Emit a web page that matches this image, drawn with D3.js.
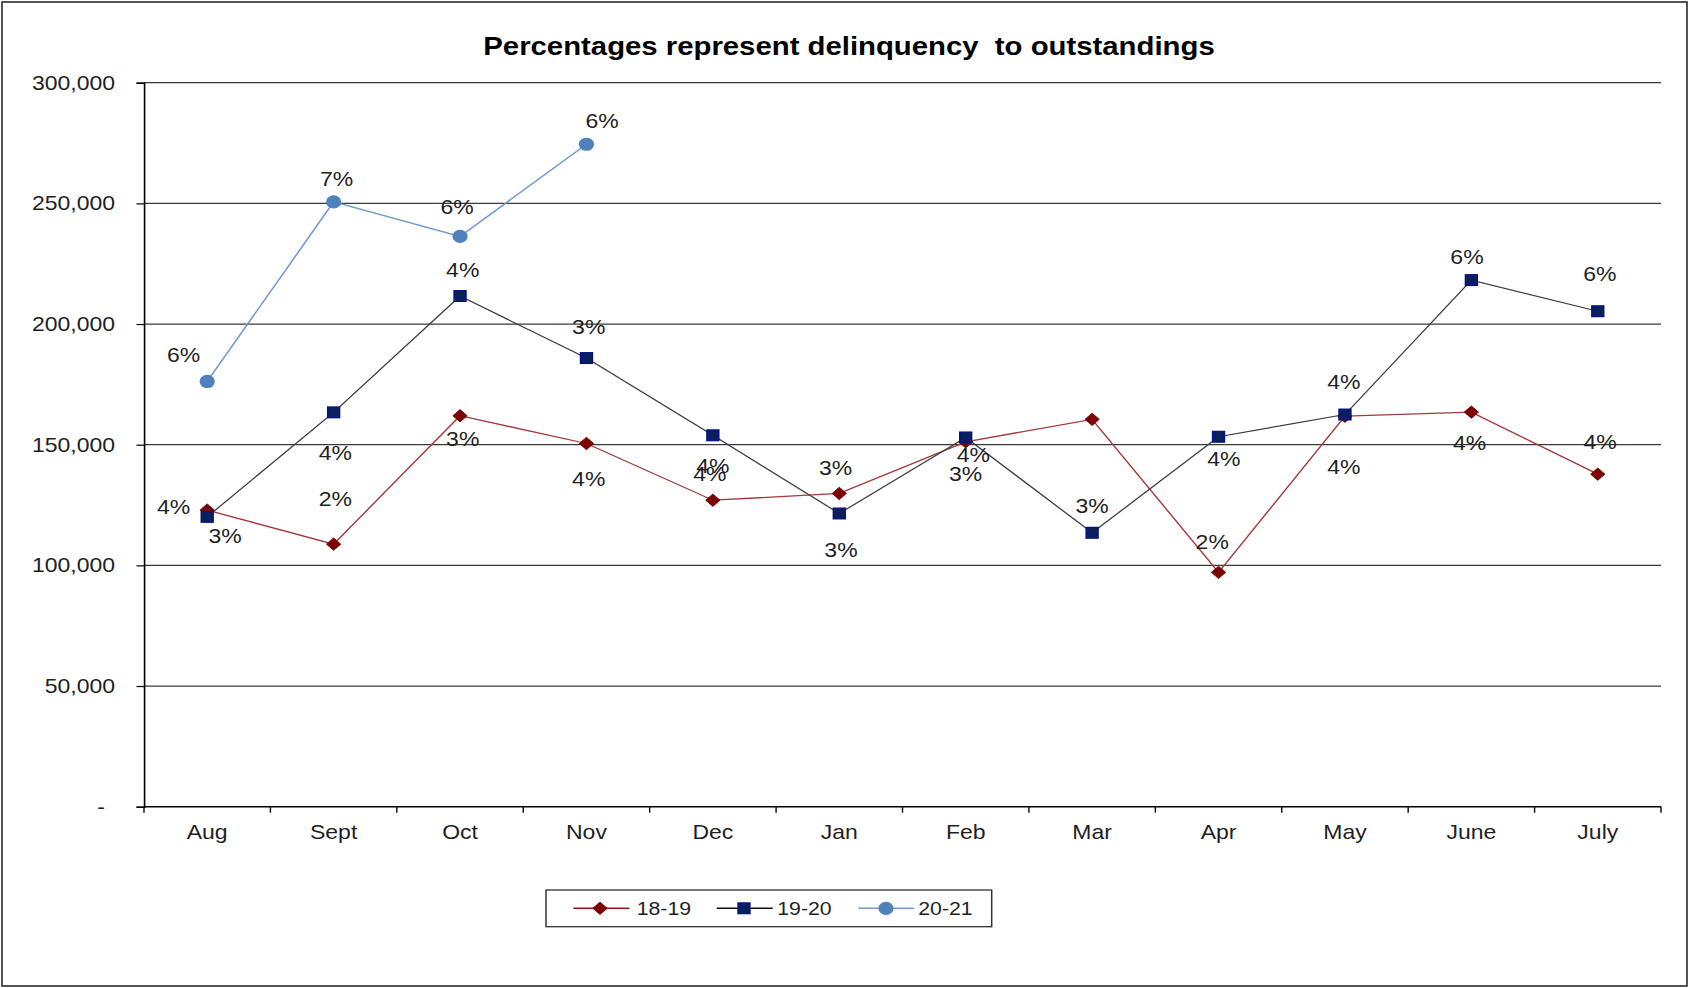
<!DOCTYPE html>
<html>
<head>
<meta charset="utf-8">
<script src="https://cdn.jsdelivr.net/npm/d3@7/dist/d3.min.js"></script>
<style>
  html, body { margin: 0; padding: 0; background: #fff; }
  svg { display: block; }
  text { font-family: "Liberation Sans", Arial, sans-serif; fill: #1f1f1f; }
</style>
</head>
<body>
<svg id="chart" width="1689" height="988"></svg>
<script>
// ---- data ----
const months = ["Aug", "Sept", "Oct", "Nov", "Dec", "Jan", "Feb", "Mar", "Apr", "May", "June", "July"];
const seriesNames = ["18-19", "19-20", "20-21"];

const values1819 = [122900, 108800, 162000, 150500, 127000, 129800, 151200, 160500, 97100, 161800, 163500, 137800];
const values1920 = [120100, 163400, 211600, 185900, 153900, 121500, 153000, 113500, 153300, 162500, 218200, 205300];
const values2021 = [176200, 250600, 236300, 274500];

const pct1819 = ["4%", "2%", "3%", "4%", "4%", "3%", "4%", null, "2%", "4%", "4%", "4%"];
const pct1920 = ["3%", "4%", "4%", "3%", "4%", "3%", "3%", "3%", "4%", "4%", "6%", "6%"];
const pct2021 = ["6%", "7%", "6%", "6%"];

const yTickValues = [0, 50000, 100000, 150000, 200000, 250000, 300000];
const yTickLabels = ["-", "50,000", "100,000", "150,000", "200,000", "250,000", "300,000"];

// ---- layout (label nudges are relative to each point, in px) ----
const nudge1819 = [[-33.5, -3.3], [1.7, -45], [2.7, 22.6], [2.3, 35.7], [-3, -26], [-3.6, -25.3],
                   [7.6, 13.3], [0, 0], [-6.3, -30.6], [-1, 50.7], [-1.7, 30.3], [2.4, -32.3]];
const nudge1920 = [[17.9, 19], [1.7, 40], [2.7, -26.7], [2.3, -31.3], [0, 30.4], [1.7, 36.7],
                   [0, 36], [0, -27], [5.4, 21.6], [-1, -32.6], [-4.4, -23.3], [2, -37.7]];
const nudge2021 = [[-23.7, -26.7], [3, -23], [-3, -30], [15.6, -23]];

const W = 1689, H = 988;
const SX = 1.15;              // horizontal stretch of the whole drawing
const ix = v => v / SX;       // page x -> inner x

const plot = { left: 144, right: 1661, top: 82.7, bottom: 806.7 };

const svg = d3.select("#chart");

// outer frame
svg.append("rect")
  .attr("x", 2).attr("y", 2).attr("width", W - 4).attr("height", H - 4)
  .attr("fill", "none").attr("stroke", "#2a2a2a").attr("stroke-width", 1.6);

const root = svg.append("g").attr("transform", `scale(${SX},1)`);

const x = d3.scaleBand().domain(months).range([ix(plot.left), ix(plot.right)]).padding(0);
const y = d3.scaleLinear().domain([0, 300000]).range([plot.bottom, plot.top]);
const cx = m => x(m) + x.bandwidth() / 2;

// title
root.append("text")
  .attr("x", ix(849)).attr("y", 55)
  .attr("text-anchor", "middle")
  .style("font-size", "25.5px").style("font-weight", "bold").style("fill", "#000")
  .style("white-space", "pre")
  .text("Percentages represent delinquency  to outstandings");

// horizontal gridlines
root.append("g")
  .selectAll("line")
  .data(yTickValues.filter(v => v > 0))
  .join("line")
  .attr("x1", ix(plot.left)).attr("x2", ix(plot.right))
  .attr("y1", d => y(d)).attr("y2", d => y(d))
  .attr("stroke", "#3a3a3a").attr("stroke-width", 1.3);

// y axis
const yAxis = root.append("g")
  .attr("transform", `translate(${ix(plot.left)},0)`)
  .call(d3.axisLeft(y)
    .tickValues(yTickValues)
    .tickFormat((d, i) => yTickLabels[i])
    .tickSize(ix(7.5))
    .tickPadding(ix(21.5)));
yAxis.select(".domain").attr("stroke", "#000").attr("stroke-width", 1.4);
yAxis.selectAll(".tick line").attr("stroke", "#000").attr("stroke-width", 1.2);
yAxis.selectAll(".tick text")
  .style("font-size", "20px").attr("fill", "#1f1f1f")
  .attr("dx", (d, i) => i === 0 ? -ix(10) : 0);

// x axis: labels centred in each band, ticks on band edges
const xAxis = root.append("g")
  .attr("transform", `translate(0,${plot.bottom})`)
  .call(d3.axisBottom(x).tickSize(0).tickPadding(18.3));
xAxis.select(".domain").remove();
xAxis.selectAll(".tick text").style("font-size", "20px").attr("fill", "#1f1f1f");
root.append("line")
  .attr("x1", ix(plot.left)).attr("x2", ix(plot.right))
  .attr("y1", plot.bottom).attr("y2", plot.bottom)
  .attr("stroke", "#000").attr("stroke-width", 1.4);
root.append("g")
  .selectAll("line")
  .data(d3.range(months.length + 1))
  .join("line")
  .attr("x1", i => x.range()[0] + i * x.step())
  .attr("x2", i => x.range()[0] + i * x.step())
  .attr("y1", plot.bottom).attr("y2", plot.bottom + 6)
  .attr("stroke", "#000").attr("stroke-width", 1.2);

// marker shapes
const diamond = r => `M0,${-r}L${r},0L0,${r}L${-r},0Z`;
const styles = {
  "18-19": { line: "#a33a3a", lineW: 1.3, draw: g => g.append("path").attr("d", diamond(6.2)).attr("fill", "#7f0000").attr("stroke", "#6a0000").attr("stroke-width", 0.8) },
  "19-20": { line: "#3c3c3c", lineW: 1.2, draw: g => g.append("rect").attr("x", -5.2).attr("y", -5.4).attr("width", 10.4).attr("height", 10.8).attr("fill", "#0b1f5e").attr("stroke", "#00108a").attr("stroke-width", 1.2) },
  "20-21": { line: "#6f9ad3", lineW: 1.4, draw: g => g.append("circle").attr("r", 6.6).attr("fill", "#4f81bd") }
};

const series = [
  { name: "18-19", values: values1819, pct: pct1819, nudge: nudge1819 },
  { name: "19-20", values: values1920, pct: pct1920, nudge: nudge1920 },
  { name: "20-21", values: values2021, pct: pct2021, nudge: nudge2021 }
];

const line = d3.line().x((d, i) => cx(months[i])).y(d => y(d));

series.forEach(s => {
  const st = styles[s.name];
  root.append("path")
    .datum(s.values)
    .attr("d", line)
    .attr("fill", "none")
    .attr("stroke", st.line)
    .attr("stroke-width", st.lineW);
});

series.forEach(s => {
  const st = styles[s.name];
  s.values.forEach((v, i) => {
    const g = root.append("g").attr("transform", `translate(${cx(months[i])},${y(v)})`);
    st.draw(g);
  });
});

// percentage labels
series.forEach(s => {
  s.values.forEach((v, i) => {
    if (!s.pct[i]) return;
    const [dx, dy] = s.nudge[i];
    root.append("text")
      .attr("x", cx(months[i]) + ix(dx))
      .attr("y", y(v) + dy)
      .attr("dy", "0.36em")
      .attr("text-anchor", "middle")
      .style("font-size", "20px")
      .text(s.pct[i]);
  });
});

// legend
const legend = root.append("g");
legend.append("rect")
  .attr("x", ix(546)).attr("y", 890)
  .attr("width", ix(991.7) - ix(546)).attr("height", 36.7)
  .attr("fill", "#fff").attr("stroke", "#333").attr("stroke-width", 1.3);
const legendItems = [
  { name: seriesNames[0], l0: 573.3, l1: 629.3, m: 600, t: 636.7 },
  { name: seriesNames[1], l0: 716.7, l1: 772.7, m: 744, t: 777.3 },
  { name: seriesNames[2], l0: 858.3, l1: 914, m: 886, t: 918.3 }
];
const ly = 908.3;
legendItems.forEach(it => {
  const st = styles[it.name];
  legend.append("line")
    .attr("x1", ix(it.l0)).attr("x2", ix(it.l1))
    .attr("y1", ly).attr("y2", ly)
    .attr("stroke", it.name === "19-20" ? "#111" : (it.name === "18-19" ? "#a01010" : st.line))
    .attr("stroke-width", 1.4);
  st.draw(legend.append("g").attr("transform", `translate(${ix(it.m)},${ly})`));
  legend.append("text")
    .attr("x", ix(it.t)).attr("y", ly).attr("dy", "0.36em")
    .style("font-size", "18.5px")
    .text(it.name);
});
</script>
</body>
</html>
